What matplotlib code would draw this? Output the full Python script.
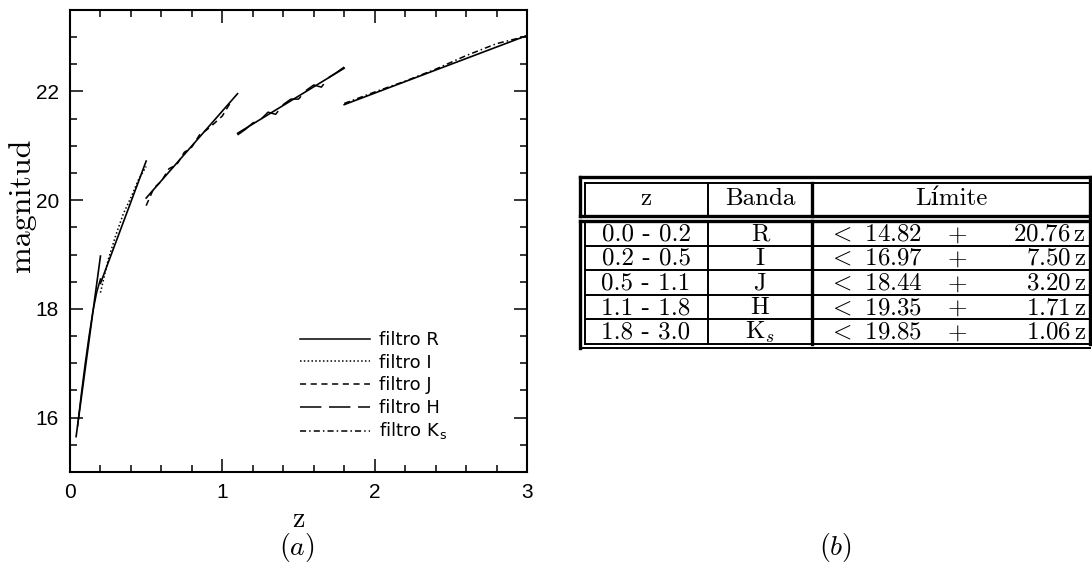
# -*- coding: UTF-8 -*-
# magnitud limite por filtro en funcion de z, con tabla de ajustes
import numpy as np
import matplotlib
matplotlib.use('Agg')
import matplotlib.pyplot as plt

plt.rcParams['mathtext.fontset'] = 'cm'

# datos
z_R = [0.05, 0.075, 0.10, 0.125, 0.15, 0.175, 0.20]
m_R = [15.85, 16.45, 17.00, 17.50, 17.95, 18.30, 18.55]
z_I = [0.20, 0.25, 0.30, 0.35, 0.40, 0.45, 0.50]
m_I = [18.30, 18.90, 19.35, 19.75, 20.05, 20.38, 20.62]
z_J = [0.50, 0.55, 0.60, 0.65, 0.70, 0.75, 0.80, 0.85, 0.90, 0.95, 1.00, 1.05]
m_J = [19.90, 20.22, 20.35, 20.58, 20.65, 20.88, 20.98, 21.20, 21.30, 21.42, 21.55, 21.78]
z_H = [1.10, 1.15, 1.20, 1.25, 1.30, 1.35, 1.40, 1.45, 1.50, 1.55, 1.60, 1.65, 1.70, 1.75, 1.80]
m_H = [21.20, 21.30, 21.42, 21.48, 21.62, 21.58, 21.76, 21.86, 21.86, 22.02, 22.12, 22.08, 22.26, 22.35, 22.45]
z_K = [1.80, 2.00, 2.20, 2.40, 2.60, 2.80, 3.00]
m_K = [21.78, 21.99, 22.19, 22.41, 22.66, 22.88, 23.02]

# tabla de ajustes lineales
z_ranges = ['0.0 - 0.2', '0.2 - 0.5', '0.5 - 1.1', '1.1 - 1.8', '1.8 - 3.0']
bandas = ['R', 'I', 'J', 'H', r'$\mathrm{K}_s$']
intercept = [14.82, 16.97, 18.44, 19.35, 19.85]
slope = [20.76, 7.50, 3.20, 1.71, 1.06]
z_lo = [0.04, 0.2, 0.5, 1.1, 1.8]
z_hi = [0.2, 0.5, 1.1, 1.8, 3.0]

labels = ['filtro R', 'filtro I', 'filtro J', 'filtro H', r'filtro K$_\mathregular{s}$']
styles = ['-', (0, (1, 1.5)), (0, (4, 3)), (0, (14, 5)), (0, (4, 2, 1, 2))]

fig = plt.figure(figsize=(10.92, 5.69), dpi=100)
ax = fig.add_axes([0.0641, 0.1705, 0.4185, 0.812])

curves = [(z_R, m_R), (z_I, m_I), (z_J, m_J), (z_H, m_H), (z_K, m_K)]
for i in range(5):
    zz = np.array([z_lo[i], z_hi[i]])
    ax.plot(zz, intercept[i] + slope[i] * zz, color='black', lw=1.2)
for i in range(5):
    ax.plot(curves[i][0], curves[i][1], color='black', lw=1.1,
            linestyle=styles[i], label=labels[i])

ax.set_xlim(0, 3)
ax.set_ylim(15, 23.5)
ax.set_xticks([0, 1, 2, 3])
ax.set_xticks(np.arange(0, 3.01, 0.2), minor=True)
ax.set_yticks([16, 18, 20, 22])
ax.set_yticks(np.arange(15, 23.51, 0.5), minor=True)
ax.tick_params(which='both', direction='in', top=True, right=True,
               labelsize=15, pad=8)
ax.tick_params(which='major', length=9.5, width=1.1)
ax.tick_params(which='minor', length=5, width=1.1)
for lab in ax.get_xticklabels() + ax.get_yticklabels():
    lab.set_family('Liberation Sans')
for sp in ax.spines.values():
    sp.set_linewidth(1.5)

ax.set_ylabel('magnitud', family='cmr10', fontsize=23)
ax.yaxis.set_label_coords(-0.075, 0.578)
ax.set_xlabel('z', family='cmr10', fontsize=20)
ax.xaxis.set_label_coords(0.5, -0.075)

leg = ax.legend(loc='lower left', bbox_to_anchor=(0.503, 0.064), frameon=False,
                borderaxespad=0, borderpad=0,
                handlelength=3.9, handletextpad=0.5, labelspacing=0.25,
                prop={'family': 'DejaVu Sans', 'size': 13})

fig.text(0.272, 0.037, r'$\mathit{(a)}$', fontsize=20, ha='center', va='center')
fig.text(0.765, 0.037, r'$\mathit{(b)}$', fontsize=20, ha='center', va='center')

# tabla dibujada en coordenadas de pixel
tb = fig.add_axes([0, 0, 1, 1])
tb.set_xlim(0, 1092)
tb.set_ylim(569, 0)
tb.axis('off')
kw = dict(color='black', lw=1.4)
thick = dict(color='black', lw=2.4)
x_l, x_r = 580, 1090
y_top = 177
y_hb = 216
y_db = 221
row_h = 24.6
y_bot = y_db + 5 * row_h
c1, c2 = 708, 812
# cabecera (doble marco)
tb.plot([x_l, x_r], [y_top, y_top], **thick)
tb.plot([x_l + 5, x_r], [y_top + 6, y_top + 6], **kw)
tb.plot([x_l, x_l], [y_top, y_hb], **thick)
tb.plot([x_l + 5, x_l + 5], [y_top + 6, y_hb - 2], **kw)
tb.plot([x_l, x_r], [y_hb, y_hb], **thick)
tb.plot([x_l, x_r], [y_db, y_db], **thick)
tb.plot([x_r, x_r], [y_top, y_bot], **thick)
tb.plot([c1, c1], [y_top + 6, y_hb], **kw)
tb.plot([c2, c2], [y_top + 6, y_hb], **thick)
# cuerpo
tb.plot([x_l, x_l], [y_db, y_bot + 4], **thick)
tb.plot([x_l + 5, x_l + 5], [y_db, y_bot], **kw)
tb.plot([x_l, x_r], [y_bot + 4, y_bot + 4], **kw)
tb.plot([c1, c1], [y_db, y_bot], **kw)
tb.plot([c2, c2], [y_db, y_bot], **thick)
for i in range(1, 6):
    tb.plot([x_l + 5, x_r], [y_db + i * row_h] * 2, **kw)

tfs = 18
serif = ['cmr10', 'DejaVu Serif']
tb.text((x_l + c1) / 2 + 2, 199, 'z', family=serif, fontsize=tfs, ha='center', va='center')
tb.text((c1 + c2) / 2, 199, 'Banda', family=serif, fontsize=tfs, ha='center', va='center')
tb.text((c2 + x_r) / 2, 199, 'Límite', family=serif,
        fontsize=tfs, ha='center', va='center')
for i in range(5):
    yc = y_db + (i + 0.5) * row_h + 1
    tb.text((x_l + c1) / 2 + 2, yc, z_ranges[i], family=serif, fontsize=tfs,
            ha='center', va='center')
    tb.text((c1 + c2) / 2, yc, bandas[i], family=serif, fontsize=tfs,
            ha='center', va='center')
    tb.text(828, yc, r'$<$ %.2f' % intercept[i], family=serif, fontsize=tfs,
            ha='left', va='center')
    tb.text(957, yc, r'$+$', fontsize=tfs, ha='center', va='center')
    tb.text(1086, yc, r'%.2f$\,$z' % slope[i], family=serif, fontsize=tfs,
            ha='right', va='center')

fig.savefig('out.png', dpi=100)
